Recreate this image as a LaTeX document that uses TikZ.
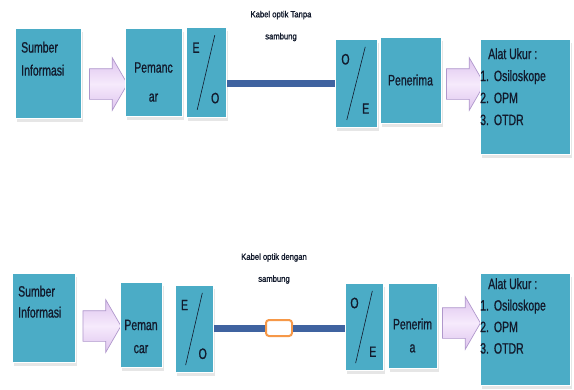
\documentclass[tikz,border=0pt]{standalone}
\usepackage{fontspec}
\setmainfont{Liberation Sans}
\newfontfamily\narrowFont[FakeStretch=0.7, FakeBold=0.8]{Liberation Sans}
\newfontfamily\labelFont[FakeStretch=0.85, FakeBold=1.2]{Liberation Sans}
\usetikzlibrary{positioning,shapes.arrows,shadows}
\tikzstyle{diagram} = [x = 1pt, y = -1pt]
\definecolor{boxColor}{RGB}{75,172,198}
\definecolor{textColor}{RGB}{18,26,44}
\definecolor{fiberColor}{RGB}{63,99,160}
\definecolor{arrowFill}{RGB}{222,196,238}
\definecolor{arrowLight}{RGB}{246,234,252}
\definecolor{arrowLine}{RGB}{176,152,204}
\definecolor{spliceColor}{RGB}{246,152,72}
\tikzstyle{boxStyle} = [fill=boxColor, draw=white, line width=1.2pt, inner sep=0pt, anchor=north west, drop shadow={opacity=.2, shadow xshift=1.5pt, shadow yshift=-3pt}]
\tikzstyle{boxText} = [font=\narrowFont\fontsize{15}{23}\selectfont, text=textColor, inner sep=0pt]
\tikzstyle{cableText} = [font=\labelFont\fontsize{9}{22}\selectfont, text=textColor, align=center, inner sep=0pt]
\tikzstyle{fatArrow} = [single arrow, top color=arrowFill, bottom color=arrowFill, middle color=arrowLight, draw=arrowLine, line width=.7pt, inner xsep=0pt, inner ysep=15pt, single arrow tip angle=120, single arrow head extend=11pt, minimum height=38pt]
\tikzstyle{fiberLine} = [draw=fiberColor, line width=7pt]
\tikzstyle{slashLine} = [draw=textColor, line width=.6pt]
\tikzstyle{spliceStyle} = [draw=spliceColor, line width=2pt, fill=white, rounded corners=3pt, inner sep=0pt, minimum width=26pt, minimum height=16pt]
\newcommand{\plainBox}[5]{\node [boxStyle, minimum width=#4, minimum height=#5] (#1) at (#2,#3) {};}
\newcommand{\convertBox}[7]{
  \plainBox{#1}{#2}{#3}{#4}{#5}
  \node [boxText] (#1First) at ({#2 + .25 * #4}, {#3 + .23 * #5}) {#6};
  \node [boxText] (#1Second) at ({#2 + .73 * #4}, {#3 + .79 * #5}) {#7};
  \draw [slashLine] ({#2 + .72 * #4}, {#3 + .09 * #5}) -- ({#2 + .28 * #4}, {#3 + .92 * #5});
}
\begin{document}
\begin{tikzpicture}[diagram]
  \useasboundingbox (0,0) rectangle (574,389);

  \plainBox{sourceTop}{15}{28}{66}{90}
  \node [boxText, align=left, anchor=north west] (sourceTopText) at (21,41.5) {Sumber\\Informasi};
  \node [fatArrow] (arrowSourceTop) at (104,84) {};
  \plainBox{senderTop}{125}{28}{57}{88}
  \node [boxText, align=center, font=\narrowFont\fontsize{15}{29}\selectfont] (senderTopText) at (153.5,82) {Pemanc\\ar};
  \convertBox{eoTop}{186}{27}{40}{90}{E}{O}
  \convertBox{oeTop}{335}{39}{42}{88}{O}{E}
  \draw [fiberLine] (eoTop.east |- oeTop.west) -- (oeTop.west);
  \node [cableText] (cableTopText) at (281,26) {Kabel optik Tanpa\\sambung};
  \plainBox{receiverTop}{380}{37}{61}{86}
  \node [boxText] (receiverTopText) at (410.5,80) {Penerima};
  \node [fatArrow] (arrowToolTop) at (461,84) {};
  \plainBox{toolTop}{480}{39}{90}{115}
  \node [boxText, align=left, anchor=north west, font=\narrowFont\fontsize{15}{22}\selectfont] (toolTopText) at (480,48) {\hspace{8pt}Alat Ukur :\\1.\hspace{5pt}Osiloskope\\2.\hspace{5pt}OPM\\3.\hspace{5pt}OTDR};

  \plainBox{sourceBot}{12}{273}{63}{89}
  \node [boxText, align=left, anchor=north west, font=\narrowFont\fontsize{15}{21}\selectfont] (sourceBotText) at (18,285.5) {Sumber\\Informasi};
  \node [fatArrow] (arrowSourceBot) at (97.5,326) {};
  \plainBox{senderBot}{120}{282}{42}{85}
  \node [boxText, align=center] (senderBotText) at (141,336.5) {Peman\\car};
  \convertBox{eoBot}{175}{285}{38}{87}{E}{O}
  \convertBox{oeBot}{345}{283}{38}{87}{O}{E}
  \node [spliceStyle] (splice) at (279,328) {};
  \draw [fiberLine] (eoBot.east |- splice.west) -- (splice.west);
  \draw [fiberLine] (splice.east) -- (oeBot.west |- splice.east);
  \node [cableText] (cableBotText) at (274,268.5) {Kabel optik dengan\\sambung};
  \plainBox{receiverBot}{388}{283}{49}{85}
  \node [boxText, align=center] (receiverBotText) at (412.5,335.5) {Penerim\\a};
  \node [fatArrow] (arrowToolBot) at (457,323) {};
  \plainBox{toolBot}{480}{273}{90}{112}
  \node [boxText, align=left, anchor=north west, font=\narrowFont\fontsize{15}{21.5}\selectfont] (toolBotText) at (480,278) {\hspace{8pt}Alat Ukur :\\1.\hspace{5pt}Osiloskope\\2.\hspace{5pt}OPM\\3.\hspace{5pt}OTDR};
\end{tikzpicture}
\end{document}
